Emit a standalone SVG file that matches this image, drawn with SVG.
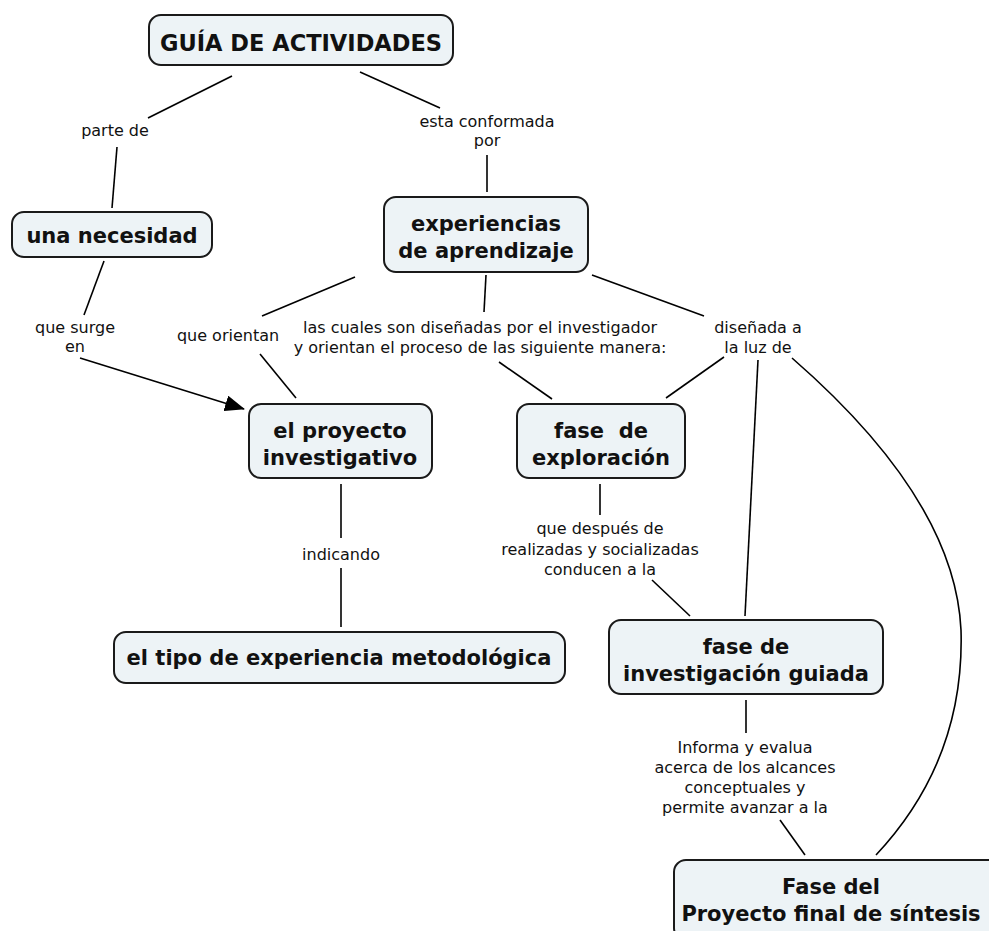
<svg xmlns="http://www.w3.org/2000/svg" width="989" height="931" viewBox="0 0 989 931">
<defs>
<marker id="arr" markerWidth="20" markerHeight="16" refX="19" refY="8" orient="auto" markerUnits="userSpaceOnUse">
<path d="M0,0 L20,8 L0,16 Z" fill="#000"/>
</marker>
<style>
.box{fill:#edf3f6;stroke:#1a1a1a;stroke-width:2}
.nt{font-family:"DejaVu Sans",Verdana,sans-serif;font-weight:bold;font-size:21px;fill:#111;text-anchor:middle}
.lt{font-family:"DejaVu Sans",Verdana,sans-serif;font-size:16px;fill:#111;text-anchor:middle}
.c{stroke:#000;stroke-width:1.6;fill:none}
</style>
</defs>
<rect width="989" height="931" fill="#fff"/>
<g id="connectors">
<line class="c" x1="232" y1="76" x2="148" y2="118"/>
<line class="c" x1="117" y1="147" x2="112" y2="208"/>
<line class="c" x1="360" y1="72" x2="440" y2="108"/>
<line class="c" x1="487" y1="155" x2="487" y2="192"/>
<line class="c" x1="104" y1="261" x2="84" y2="315"/>
<line class="c" x1="80" y1="358" x2="244" y2="409" marker-end="url(#arr)"/>
<line class="c" x1="355" y1="277" x2="262" y2="316"/>
<line class="c" x1="260" y1="354" x2="296" y2="398"/>
<line class="c" x1="486" y1="275" x2="484" y2="312"/>
<line class="c" x1="499" y1="362" x2="552" y2="399"/>
<line class="c" x1="592" y1="275" x2="704" y2="316"/>
<line class="c" x1="724" y1="357" x2="666" y2="398"/>
<line class="c" x1="758" y1="360" x2="745" y2="616"/>
<path class="c" d="M792,358 Q955,500 961,630 Q965,760 876,855"/>
<line class="c" x1="341" y1="484" x2="341" y2="538"/>
<line class="c" x1="341" y1="568" x2="341" y2="627"/>
<line class="c" x1="600" y1="484" x2="600" y2="515"/>
<line class="c" x1="652" y1="580" x2="690" y2="616"/>
<line class="c" x1="746" y1="700" x2="746" y2="733"/>
<line class="c" x1="780" y1="820" x2="805" y2="855"/>
</g>
<g id="n-guia">
<rect class="box" x="149" y="15" width="304" height="50" rx="12"/>
<text class="nt" x="301" y="51" style="font-size:22.5px">GUÍA DE ACTIVIDADES</text>
</g>
<g id="n-necesidad">
<rect class="box" x="12" y="212" width="200" height="45" rx="12"/>
<text class="nt" x="112" y="243">una necesidad</text>
</g>
<g id="n-experiencias">
<rect class="box" x="384" y="197" width="204" height="75" rx="12"/>
<text class="nt" x="486" y="231">experiencias</text>
<text class="nt" x="486" y="258">de aprendizaje</text>
</g>
<g id="n-proyecto">
<rect class="box" x="249" y="404" width="183" height="74" rx="12"/>
<text class="nt" x="340" y="438">el proyecto</text>
<text class="nt" x="340" y="465">investigativo</text>
</g>
<g id="n-exploracion">
<rect class="box" x="517" y="404" width="168" height="74" rx="12"/>
<text class="nt" x="601" y="438" xml:space="preserve">fase  de</text>
<text class="nt" x="601" y="465">exploración</text>
</g>
<g id="n-tipo">
<rect class="box" x="114" y="632" width="451" height="51" rx="12"/>
<text class="nt" x="339" y="665">el tipo de experiencia metodológica</text>
</g>
<g id="n-guiada">
<rect class="box" x="609" y="620" width="274" height="74" rx="12"/>
<text class="nt" x="746" y="654">fase de</text>
<text class="nt" x="746" y="681">investigación guiada</text>
</g>
<g id="n-sintesis">
<rect class="box" x="674" y="860" width="330" height="80" rx="12"/>
<text class="nt" x="831" y="894">Fase del</text>
<text class="nt" x="831" y="921">Proyecto final de síntesis</text>
</g>
<g id="labels">
<text class="lt" x="115" y="136">parte de</text>
<text class="lt" x="487" y="127">esta conformada</text>
<text class="lt" x="487" y="146">por</text>
<text class="lt" x="75" y="333">que surge</text>
<text class="lt" x="75" y="352">en</text>
<text class="lt" x="228" y="341">que orientan</text>
<text class="lt" x="480" y="333">las cuales son diseñadas por el investigador</text>
<text class="lt" x="480" y="353">y orientan el proceso de las siguiente manera:</text>
<text class="lt" x="758" y="333">diseñada a</text>
<text class="lt" x="758" y="353">la luz de</text>
<text class="lt" x="341" y="560">indicando</text>
<text class="lt" x="600" y="534">que después de</text>
<text class="lt" x="600" y="555">realizadas y socializadas</text>
<text class="lt" x="600" y="575">conducen a la</text>
<text class="lt" x="745" y="753">Informa y evalua</text>
<text class="lt" x="745" y="773">acerca de los alcances</text>
<text class="lt" x="745" y="793">conceptuales y</text>
<text class="lt" x="745" y="813">permite avanzar a la</text>
</g>
</svg>
